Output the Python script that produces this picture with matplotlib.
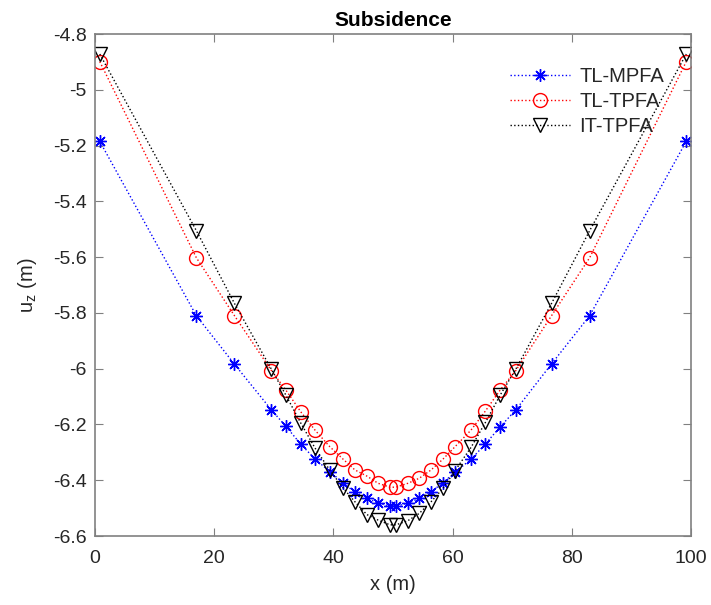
import matplotlib
matplotlib.use("Agg")
import matplotlib.pyplot as plt

# Horizontal positions of the surface nodes (m)
x = [0.8, 17.0, 23.4, 29.6, 32.0, 34.5, 36.9, 39.4, 41.6, 43.6, 45.6, 47.5, 49.5,
     50.5, 52.5, 54.4, 56.4, 58.4, 60.4, 63.1, 65.5, 68.0, 70.6, 76.6, 83.0, 99.2]

# Vertical displacement u_z (m) for each scheme
tl_mpfa = [-5.185, -5.810, -5.984, -6.148, -6.206, -6.270, -6.324, -6.369, -6.409,
           -6.443, -6.463, -6.483, -6.492,
           -6.492, -6.483, -6.465, -6.441, -6.409, -6.371, -6.325, -6.270, -6.208,
           -6.148, -5.983, -5.810, -5.185]
tl_tpfa = [-4.899, -5.602, -5.810, -6.007, -6.076, -6.154, -6.220, -6.280, -6.324,
           -6.363, -6.385, -6.411, -6.425,
           -6.425, -6.411, -6.393, -6.363, -6.324, -6.280, -6.220, -6.152, -6.076,
           -6.007, -5.810, -5.602, -4.899]
it_tpfa = [-4.872, -5.505, -5.766, -6.002, -6.094, -6.194, -6.284, -6.364, -6.427,
           -6.477, -6.523, -6.543, -6.560,
           -6.560, -6.545, -6.519, -6.477, -6.429, -6.366, -6.282, -6.193, -6.094,
           -6.002, -5.766, -5.505, -4.872]

series_labels = ["TL-MPFA", "TL-TPFA", "IT-TPFA"]
x_ticks = [0, 20, 40, 60, 80, 100]
y_ticks = [-6.6, -6.4, -6.2, -6.0, -5.8, -5.6, -5.4, -5.2, -5.0, -4.8]
y_tick_labels = ["-6.6", "-6.4", "-6.2", "-6", "-5.8", "-5.6", "-5.4", "-5.2", "-5", "-4.8"]

plt.rcParams["font.family"] = ["Liberation Sans", "DejaVu Sans"]

fig = plt.figure(figsize=(7.11, 6.05), dpi=100)
ax = fig.add_axes([95 / 711, 1 - 536 / 605, (691 - 95) / 711, (536 - 34) / 605])

ax.plot(x, tl_mpfa, linestyle=":", color="blue", linewidth=1.0,
        marker=(8, 2, 0), markersize=9, markeredgewidth=1.0, label=series_labels[0])
ax.plot(x, tl_tpfa, linestyle=":", color="red", linewidth=1.0,
        marker="o", markersize=10, markerfacecolor="none", markeredgewidth=1.0,
        label=series_labels[1])
ax.plot(x, it_tpfa, linestyle=":", color="black", linewidth=1.0,
        marker="v", markersize=10, markerfacecolor="none", markeredgewidth=1.0,
        label=series_labels[2])

ax.set_xlim(0, 100)
ax.set_ylim(-6.6, -4.8)
ax.set_xticks(x_ticks)
ax.set_xticklabels([str(t) for t in x_ticks])
ax.set_yticks(y_ticks)
ax.set_yticklabels(y_tick_labels)

axis_gray = "#262626"
for side in ax.spines.values():
    side.set_color("#808080")
    side.set_linewidth(1.2)
ax.tick_params(direction="in", length=6, width=0.8, color="#808080",
               labelcolor=axis_gray, labelsize=14, top=True, right=True)
ax.tick_params(axis="x", pad=10)
ax.tick_params(axis="y", pad=6)

ax.set_xlabel("x (m)", fontsize=14.5, color=axis_gray, labelpad=6)
ax.set_ylabel("u$_\\mathregular{z}$ (m)", fontsize=14.5, color=axis_gray, labelpad=10)
ax.set_title("Subsidence", fontsize=15, fontweight="bold", pad=6)

leg = ax.legend(loc="upper right", bbox_to_anchor=(0.985, 0.97), frameon=False,
                fontsize=14.5, handlelength=3.0, handletextpad=0.45, labelspacing=0.3,
                markerscale=1.0)
for t in leg.get_texts():
    t.set_color(axis_gray)

fig.savefig("out.png", dpi=100)
